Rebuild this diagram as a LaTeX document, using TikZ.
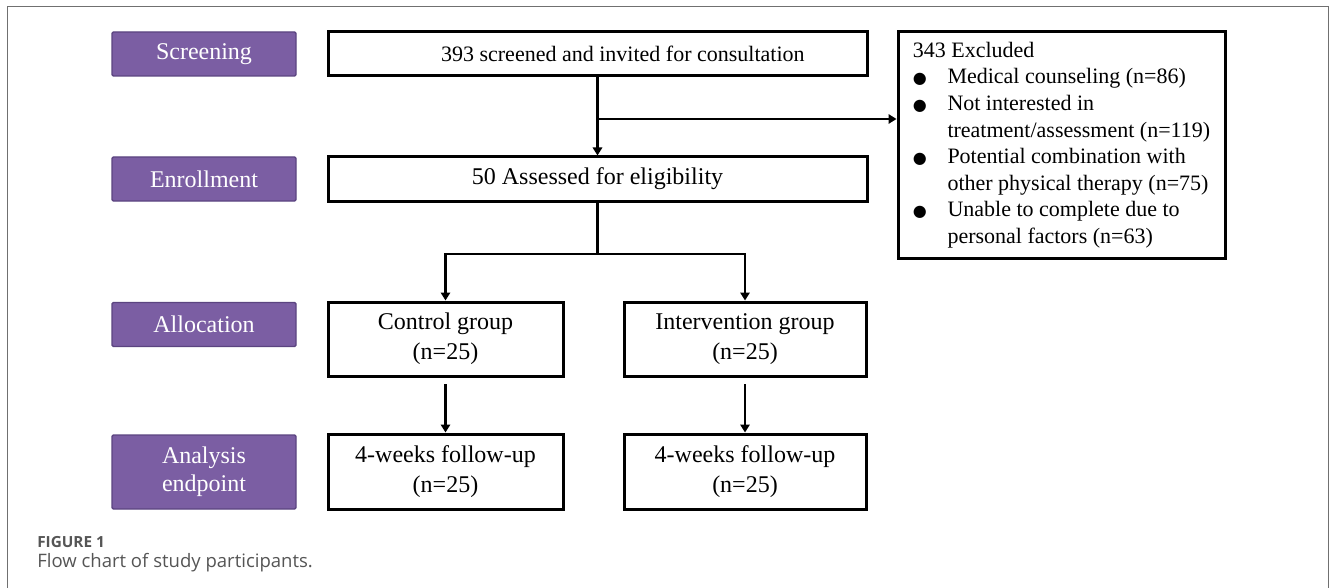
\documentclass[tikz,border=0pt]{standalone}
\usepackage{fontspec}
\setmainfont{Liberation Serif}
\newfontfamily\capfont{Open Sans}
\newfontfamily\symfont{DejaVu Sans}
\usetikzlibrary{arrows.meta}
\definecolor{stagefill}{HTML}{7B5EA3}
\definecolor{stageline}{HTML}{5B4480}
\definecolor{framegray}{HTML}{707070}
\definecolor{capgray}{HTML}{555555}
\newcommand{\bul}{{\symfont\fontsize{12}{12}\selectfont ●}}
\tikzset{
	stage/.style={rectangle, fill=stagefill, draw=stageline, line width=1pt, rounded corners=1pt, text=white,
		minimum width=138pt, minimum height=33pt, align=center, inner sep=0pt, font=\fontsize{18}{21}\selectfont},
	flowbox/.style={rectangle, draw=black, line width=2.25pt, fill=white, align=center, inner sep=0pt,
		font=\fontsize{18}{22.5}\selectfont},
}
\begin{document}
\begin{tikzpicture}[x=0.75pt,y=-0.75pt,line join=miter,>={Triangle[length=6pt,width=7pt]}]
	\useasboundingbox (0,0) rectangle (1330,588);
	\draw[framegray,line width=0.75pt] (7,588)--(7,7)--(1328,7)--(1328,588);

	% stages on the left
	\node[stage] (scr) at (204,54) {Screening};
	\node[stage] (enr) at (204,179) {Enrollment};
	\node[stage] (alc) at (204,324.5) {Allocation};
	\node[stage,minimum height=55.5pt] (ana) at (204,472) {Analysis\\endpoint};

	% flow boxes
	\node[flowbox,minimum width=404.25pt,minimum height=33pt,font=\fontsize{16.5}{20}\selectfont] (scrbox) at (597.5,54) {\hspace*{38pt}393 screened and invited for consultation};
	\node[flowbox,minimum width=404.25pt,minimum height=33pt] (enrbox) at (597.5,179) {50 Assessed for eligibility};
	\node[flowbox,minimum width=245.25pt,minimum height=169.5pt,font=\fontsize{16.5}{19.9}\selectfont] (exc) at (1061.5,145) {%
		\begin{tabular}{@{}p{26pt}@{}l@{}}
			\multicolumn{2}{@{}l@{}}{343 Excluded}\\
			\bul & Medical counseling (n=86)\\
			\bul & Not interested in\\
			     & treatment/assessment (n=119)\\
			\bul & Potential combination with\\
			     & other physical therapy (n=75)\\
			\bul & Unable to complete due to\\
			     & personal factors (n=63)
		\end{tabular}};
	\node[flowbox,minimum width=176.25pt,minimum height=55.5pt] (ctrl) at (445.5,339) {Control group\\(n=25)};
	\node[flowbox,minimum width=181.5pt,minimum height=55.5pt] (intv) at (745,339) {Intervention group\\(n=25)};
	\node[flowbox,minimum width=176.25pt,minimum height=56.25pt] (fu1) at (445.5,471.5) {4-weeks follow-up\\(n=25)};
	\node[flowbox,minimum width=181.5pt,minimum height=56.25pt] (fu2) at (745,471.5) {4-weeks follow-up\\(n=25)};

	% connectors
	\coordinate (exsplit) at (597.5,119);
	\coordinate (grsplit) at (597.5,254);
	\begin{scope}[line width=2pt]
		\draw[->] (scrbox) -- (enrbox);
		\draw[->] (exsplit) -- (exsplit -| exc.west);
		\draw (enrbox) -- (grsplit);
		\draw[->] (grsplit) -| (ctrl);
		\draw[->] (grsplit) -| (intv);
		\draw[->,shorten <=5pt] (ctrl) -- (fu1);
		\draw[->,shorten <=5pt] (intv) -- (fu2);
	\end{scope}

	% caption
	\node[anchor=base west,inner sep=0pt,text=capgray,font=\capfont\bfseries\fontsize{11.5}{14}\selectfont] (fig) at (37,547) {FIGURE 1};
	\node[anchor=base west,inner sep=0pt,text=capgray,font=\capfont\fontsize{13.9}{17}\selectfont] (cap) at (37,567) {Flow chart of study participants.};
\end{tikzpicture}
\end{document}
